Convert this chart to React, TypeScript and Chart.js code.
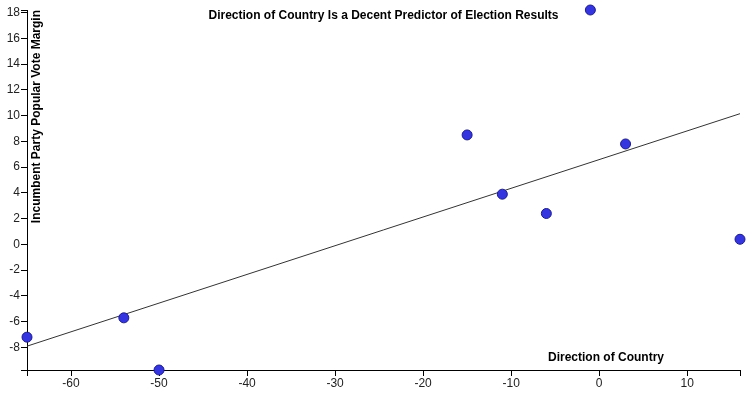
import React, { useEffect, useRef } from "react";
import { Chart, registerables } from "chart.js";

Chart.register(...registerables);

const directionOfCountry = [-65, -54, -50, -15, -11, -6, -1, 3, 16];
const voteMargin = [-7.2, -5.7, -9.75, 8.5, 3.9, 2.4, 18.2, 7.8, 0.4];
const trendX = [-65, 16];
const trendY = [-7.9, 10.15];
const xTicks = [-60, -50, -40, -30, -20, -10, 0, 10];
const yTicks = [-8, -6, -4, -2, 0, 2, 4, 6, 8, 10, 12, 14, 16, 18];
const xRange = [-65, 16];
const yRange = [-9.75, 18.2];

const chartTitle = "Direction of Country Is a Decent Predictor of Election Results";
const xTitle = "Direction of Country";
const yTitle = "Incumbent Party Popular Vote Margin";

const FONT = "'Liberation Sans', Arial, sans-serif";

export default function App() {
  const ref = useRef<HTMLCanvasElement | null>(null);
  useEffect(() => {
    if (!ref.current) return;
    const textPlugin = {
      id: "texts",
      afterDraw(chart: any) {
        const { ctx, chartArea } = chart;
        ctx.save();
        ctx.fillStyle = "#000";
        ctx.font = `bold 12px ${FONT}`;
        ctx.textBaseline = "alphabetic";
        ctx.textAlign = "center";
        ctx.fillText(chartTitle, (chartArea.left + chartArea.right) / 2, chartArea.top + 8.5);
        ctx.textAlign = "end";
        ctx.fillText(xTitle, chartArea.right - 76, chartArea.bottom - 9.5);
        ctx.translate(chartArea.left + 12.5, chartArea.top);
        ctx.rotate(-Math.PI / 2);
        ctx.textAlign = "end";
        ctx.fillText(yTitle, 0, 0);
        ctx.restore();
      },
    };
    const mkTicks = (vals: number[], range: number[]) => (scale: any) => {
      scale.ticks = [range[0], ...vals, range[1]].map((v) => ({ value: v }));
    };
    const chart = new Chart(ref.current, {
      type: "scatter",
      data: {
        datasets: [
          {
            type: "scatter",
            data: directionOfCountry.map((x, i) => ({ x, y: voteMargin[i] })),
            backgroundColor: "#3535e0",
            borderColor: "#1c1c8c",
            borderWidth: 1,
            pointRadius: 5,
            clip: false as any,
          },
          {
            type: "line",
            data: trendX.map((x, i) => ({ x, y: trendY[i] })),
            borderColor: "#333",
            borderWidth: 1,
            pointRadius: 0,
            fill: false,
          },
        ],
      } as any,
      options: {
        animation: false,
        responsive: true,
        maintainAspectRatio: false,
        layout: { padding: { top: 10, right: 10, left: 0, bottom: 0 } },
        plugins: { legend: { display: false }, tooltip: { enabled: false }, title: { display: false } },
        scales: {
          x: {
            type: "linear",
            min: xRange[0],
            max: xRange[1],
            afterBuildTicks: mkTicks(xTicks, xRange),
            afterFit: (s: any) => {
              s.height = 23;
            },
            grid: { drawOnChartArea: false, drawTicks: true, tickLength: 6, color: "#000" },
            border: { display: true, color: "#000", width: 1 },
            ticks: {
              autoSkip: false,
              maxRotation: 0,
              padding: 0,
              color: "#222",
              font: { family: FONT, size: 12 },
              callback: (v: any) => (xTicks.includes(Number(v)) ? String(v) : ""),
            },
          },
          y: {
            type: "linear",
            min: yRange[0],
            max: yRange[1],
            afterBuildTicks: mkTicks(yTicks, yRange),
            afterFit: (s: any) => {
              s.width = 27;
            },
            grid: { drawOnChartArea: false, drawTicks: true, tickLength: 6, color: "#000" },
            border: { display: true, color: "#000", width: 1 },
            ticks: {
              autoSkip: false,
              padding: 1,
              color: "#222",
              font: { family: FONT, size: 12 },
              callback: (v: any) => (yTicks.includes(Number(v)) ? String(v) : ""),
            },
          },
        },
      } as any,
      plugins: [textPlugin],
    });
    return () => chart.destroy();
  }, []);
  return (
    <div style={{ position: "fixed", left: 0, top: 0, width: 750, height: 393, background: "#fff" }}>
      <canvas ref={ref} />
    </div>
  );
}
